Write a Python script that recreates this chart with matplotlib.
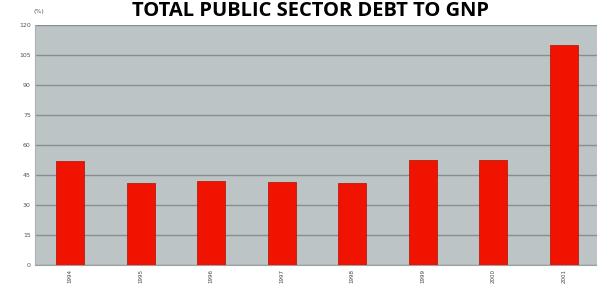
import matplotlib
matplotlib.use("Agg")
import matplotlib.pyplot as plt

years = ["1994", "1995", "1996", "1997", "1998", "1999", "2000", "2001"]
debt_pct = [52, 41, 42, 41.5, 41, 52.5, 52.5, 110]
yticks = [0, 15, 30, 45, 60, 75, 90, 105, 120]

W, H = 597, 291
fig = plt.figure(figsize=(W / 100, H / 100), dpi=100)
ax = fig.add_axes([35 / W, 1 - 265 / H, 564 / W, 240 / H])
ax.set_facecolor("#bcc4c6")

x = list(range(len(years)))
ax.bar(x, debt_pct, width=0.4, color="#f01400", edgecolor="#b01000", linewidth=0.5, zorder=3)

ax.set_xlim(-0.5, len(years) - 0.5)
ax.set_ylim(0, 120)
ax.set_yticks(yticks)
ax.set_yticklabels([str(v) for v in yticks], fontsize=4.5, color="#555555")
ax.set_xticks(x)
ax.set_xticklabels(years, rotation=90, fontsize=4, color="#444444")
ax.tick_params(axis="both", length=0, pad=3)
ax.yaxis.grid(True, color="#858e90", linewidth=1.0, zorder=1)
for s in ["top", "right"]:
    ax.spines[s].set_visible(False)
ax.spines["left"].set_color("#aab2b4")
ax.spines["bottom"].set_color("#9aa2a4")

fig.text(33 / W, 1 - 13 / H, "(%)", fontsize=4.5, color="#555555", ha="left", va="baseline")
fig.text(310 / W, 1 - 16 / H, "TOTAL PUBLIC SECTOR DEBT TO GNP", fontsize=14.5,
         fontweight="bold", family="Open Sans", ha="center", va="baseline", color="black")

fig.savefig("out.png", dpi=100)
